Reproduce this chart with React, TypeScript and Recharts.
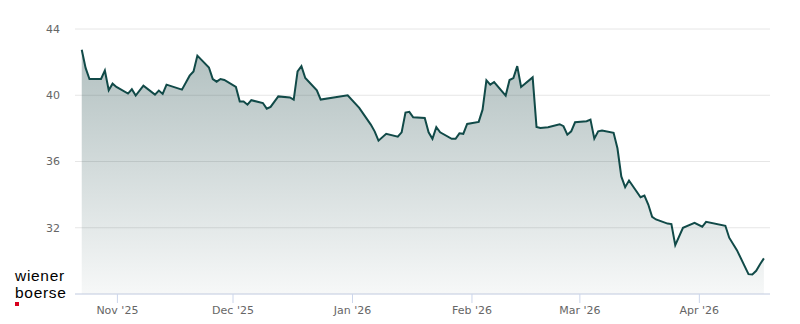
import * as React from "react"
import { AreaChart, Area, XAxis, YAxis, CartesianGrid } from "recharts"

// closing prices, one per visible vertex of the line
const dates = [
  "2025-10-22", "2025-10-23", "2025-10-24", "2025-10-27", "2025-10-28", "2025-10-29", "2025-10-30", "2025-10-31",
  "2025-11-03", "2025-11-04", "2025-11-05", "2025-11-07", "2025-11-10", "2025-11-11", "2025-11-12", "2025-11-13",
  "2025-11-17", "2025-11-19", "2025-11-20", "2025-11-21", "2025-11-24", "2025-11-25", "2025-11-26", "2025-11-27",
  "2025-11-28", "2025-12-01", "2025-12-02", "2025-12-03", "2025-12-04", "2025-12-05", "2025-12-08", "2025-12-09",
  "2025-12-10", "2025-12-12", "2025-12-15", "2025-12-16", "2025-12-17", "2025-12-18", "2025-12-19", "2025-12-22",
  "2025-12-23", "2025-12-30", "2026-01-02", "2026-01-05", "2026-01-06", "2026-01-07", "2026-01-09", "2026-01-12",
  "2026-01-13", "2026-01-14", "2026-01-15", "2026-01-16", "2026-01-19", "2026-01-20", "2026-01-21", "2026-01-22",
  "2026-01-23", "2026-01-26", "2026-01-27", "2026-01-28", "2026-01-29", "2026-01-30", "2026-02-02", "2026-02-03",
  "2026-02-04", "2026-02-05", "2026-02-06", "2026-02-09", "2026-02-10", "2026-02-11", "2026-02-12", "2026-02-13",
  "2026-02-16", "2026-02-17", "2026-02-18", "2026-02-20", "2026-02-23", "2026-02-24", "2026-02-25", "2026-02-26",
  "2026-02-27", "2026-03-02", "2026-03-03", "2026-03-04", "2026-03-05", "2026-03-06", "2026-03-09", "2026-03-10",
  "2026-03-11", "2026-03-12", "2026-03-13", "2026-03-16", "2026-03-17", "2026-03-18", "2026-03-19", "2026-03-20",
  "2026-03-23", "2026-03-24", "2026-03-25", "2026-03-27", "2026-03-30", "2026-04-01", "2026-04-02", "2026-04-07",
  "2026-04-08", "2026-04-10", "2026-04-13", "2026-04-14", "2026-04-15", "2026-04-16", "2026-04-17",
]

const closes = [
  42.75, 41.65, 40.98, 40.98, 41.49, 40.3, 40.7, 40.5,
  40.1, 40.36, 39.98, 40.58, 40.04, 40.28, 40.08, 40.64,
  40.34, 41.18, 41.44, 42.39, 41.68, 40.98, 40.82, 40.98,
  40.92, 40.5, 39.62, 39.62, 39.43, 39.7, 39.53, 39.19,
  39.3, 39.93, 39.87, 39.74, 41.44, 41.76, 41.04, 40.3,
  39.74, 40.0, 39.24, 38.23, 37.82, 37.26, 37.67, 37.5,
  37.76, 38.95, 39.0, 38.67, 38.63, 37.76, 37.37, 38.07,
  37.76, 37.37, 37.37, 37.7, 37.67, 38.27, 38.39, 39.13,
  40.9, 40.64, 40.8, 39.98, 40.92, 41.04, 41.76, 40.5,
  41.08, 38.09, 38.03, 38.07, 38.25, 38.13, 37.62, 37.82,
  38.37, 38.43, 38.53, 37.38, 37.82, 37.87, 37.73, 36.8,
  35.1, 34.45, 34.85, 33.84, 33.94, 33.4, 32.66, 32.5,
  32.25, 32.22, 30.95, 32.0, 32.3, 32.06, 32.36, 32.12,
  31.4, 30.65, 29.2, 29.18, 29.4, 29.8, 30.15,
]

const monthTicks = ["2025-11-01", "2025-12-01", "2026-01-01", "2026-02-01", "2026-03-01", "2026-04-01"]
const monthLabels = ["Nov '25", "Dec '25", "Jan '26", "Feb '26", "Mar '26", "Apr '26"]
const priceTicks = [32, 36, 40, 44]

const DAY = 86400000
// prices are stamped at the close of the session
const data = dates.map((d, i) => ({ t: Date.parse(d + "T00:00:00Z") + 0.75 * DAY, close: closes[i] }))
const tickValues = monthTicks.map((d) => Date.parse(d + "T00:00:00Z"))
const xDomain = [Date.parse("2025-10-21T00:00:00Z"), Date.parse("2026-04-19T08:00:00Z")]

const labelStyle = { fill: "#666666", fontSize: 11, fontFamily: "DejaVu Sans" }

export default function App() {
  return (
    <div style={{ position: "absolute", left: 0, top: 0, width: 800, height: 324, background: "#fff" }}>
      <AreaChart width={800} height={324} data={data} margin={{ top: 29, right: 30, bottom: 0, left: 0 }}>
        <defs>
          <linearGradient id="fillGrad" x1="0" y1="0" x2="0" y2="1">
            <stop offset="0%" stopColor="#285050" stopOpacity={0.36} />
            <stop offset="100%" stopColor="#285050" stopOpacity={0.04} />
          </linearGradient>
        </defs>
        <CartesianGrid vertical={false} stroke="#e6e6e6" />
        <XAxis
          dataKey="t"
          type="number"
          scale="time"
          domain={xDomain}
          ticks={tickValues}
          tickFormatter={(v) => monthLabels[tickValues.indexOf(v)] ?? ""}
          height={30}
          tickSize={9}
          tickMargin={3}
          stroke="#ccd6eb"
          tick={labelStyle}
          allowDataOverflow
        />
        <YAxis
          domain={[28, 44]}
          ticks={priceTicks}
          width={75}
          axisLine={false}
          tickLine={false}
          tickSize={0}
          tickMargin={15}
          tick={labelStyle}
          allowDataOverflow
        />
        <Area
          type="linear"
          dataKey="close"
          stroke="#114a48"
          strokeWidth={2}
          fill="url(#fillGrad)"
          fillOpacity={1}
          dot={false}
          activeDot={false}
          isAnimationActive={false}
        />
      </AreaChart>
      <div
        style={{
          position: "absolute",
          left: 15,
          top: 267,
          fontFamily: "Liberation Sans",
          fontSize: 15.5,
          letterSpacing: 0.7,
          lineHeight: "17.4px",
          color: "#000",
        }}
      >
        wiener
        <br />
        boerse
      </div>
      <div style={{ position: "absolute", left: 15, top: 302, width: 4, height: 4, background: "#d8001d" }} />
    </div>
  )
}
